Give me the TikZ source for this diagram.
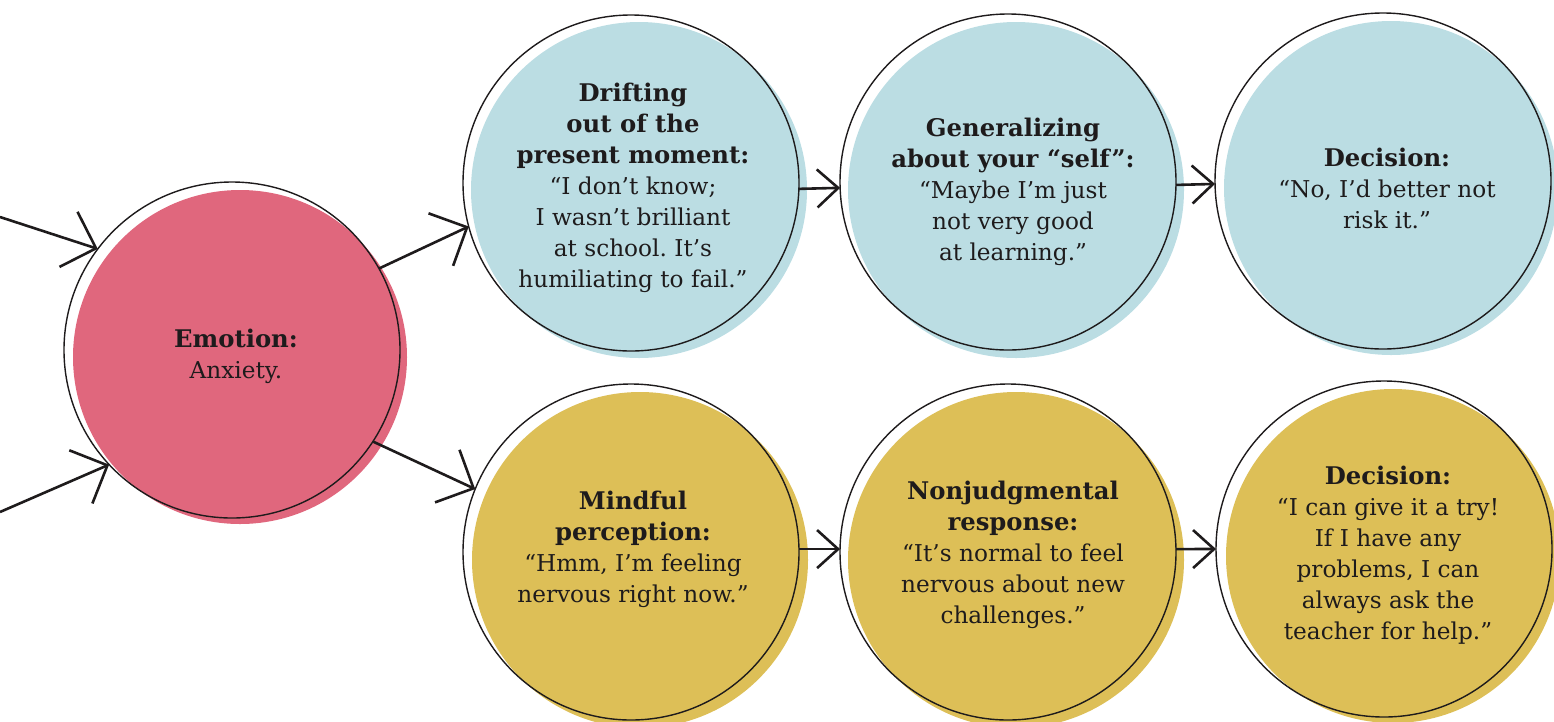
\documentclass[tikz,border=0pt]{standalone}
\usepackage{fontspec}
\setmainfont{DejaVu Serif}
\usetikzlibrary{arrows.meta}

\definecolor{inkdark}{HTML}{1E1B1C}
\definecolor{rosefill}{HTML}{E0677D}
\definecolor{skyfill}{HTML}{BBDDE3}
\definecolor{goldfill}{HTML}{DDBF57}

% bold heading lines inside the circles
\newcommand{\hd}[1]{{\fontsize{24.3}{31}\selectfont\bfseries #1}}

\tikzset{
  ring/.style={circle, draw=inkdark, line width=1.4pt, minimum size=336pt,
    inner sep=0pt, outer sep=0pt},
  blurb/.style={align=center, text=inkdark, inner sep=0pt,
    font=\fontsize{23.2}{31}\selectfont\frenchspacing},
  flow/.style={draw=inkdark, line width=2.6pt,
    -{Straight Barb[length=21pt,width=38pt,line width=2.6pt]}},
  slant/.style={draw=inkdark, line width=2.6pt,
    -{Straight Barb[length=29pt,width=58pt,line width=2.6pt]}},
}

\begin{document}
\begin{tikzpicture}[x=1pt, y=-1pt]
  \useasboundingbox (0,0) rectangle (1554,721);
  \clip (0,0) rectangle (1554,721);

  % offset colour discs behind the outlines
  \fill[rosefill] (240,357) circle[radius=167];
  \fill[skyfill]  (639,190) circle[radius=168];
  \fill[skyfill]  (1016,190) circle[radius=168];
  \fill[skyfill]  (1391,188) circle[radius=167];
  \fill[goldfill] (640,560) circle[radius=168];
  \fill[goldfill] (1016,560) circle[radius=168];
  \fill[goldfill] (1393,556) circle[radius=167];

  % outlined circles
  \node[ring] (emo) at (232,350) {};
  \node[ring] (drift) at (631,183) {};
  \node[ring] (general) at (1008,182) {};
  \node[ring] (decA) at (1383,181) {};
  \node[ring] (mind) at (631,552) {};
  \node[ring] (nonj) at (1008,552) {};
  \node[ring] (decB) at (1384,549) {};

  % texts
  \node[blurb] (emoT) at (236,356) {\hd{Emotion:}\\Anxiety.};
  \node[blurb] (driftT) at (633,188) {\hd{Drifting}\\\hd{out of the}\\\hd{present moment:}\\“I don’t know;\\I wasn’t brilliant\\at school. It’s\\humiliating to fail.”};
  \node[blurb] (generalT) at (1013,192) {\hd{Generalizing}\\\hd{about your “self”:}\\“Maybe I’m just\\not very good\\at learning.”};
  \node[blurb] (decAT) at (1387,188) {\hd{Decision:}\\“No, I’d better not\\risk it.”};
  \node[blurb] (mindT) at (633,549) {\hd{Mindful}\\\hd{perception:}\\“Hmm, I’m feeling\\nervous right now.”};
  \node[blurb] (nonjT) at (1013,555) {\hd{Nonjudgmental}\\\hd{response:}\\“It’s normal to feel\\nervous about new\\challenges.”};
  \node[blurb] (decBT) at (1388,555) {\hd{Decision:}\\“I can give it a try!\\If I have any\\problems, I can\\always ask the\\teacher for help.”};

  % incoming arrows
  \coordinate (inA) at (0,217);
  \coordinate (inB) at (0,512);
  \draw[slant] (inA) -- (emo.143);
  \draw[slant] (inB) -- (emo.223);

  % branching arrows
  \draw[slant] (emo.29) -- (drift.195);
  \draw[slant] (emo.-33) -- (mind.158);

  % chain arrows
  \draw[flow] (drift.-2) -- (general.182);
  \draw[flow] (general.-1) -- (decA.181);
  \draw[flow] (mind.1) -- (nonj.179);
  \draw[flow] (nonj.1) -- (decB.180);
\end{tikzpicture}
\end{document}
